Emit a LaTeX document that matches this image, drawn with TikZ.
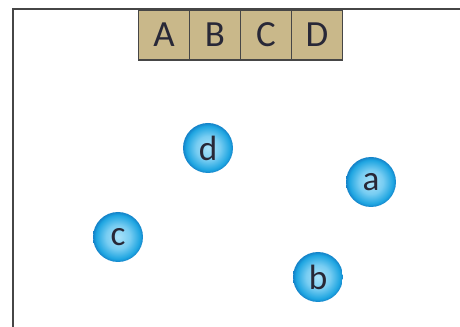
\documentclass[tikz,border=0pt]{standalone}
\usepackage{fontspec}
\setmainfont{Carlito}
\definecolor{boxtan}{RGB}{201,184,138}
\definecolor{ballin}{RGB}{170,226,249}
\definecolor{ballmid}{RGB}{120,205,242}
\definecolor{ballout}{RGB}{30,165,225}
\definecolor{balledge}{RGB}{20,130,200}
\definecolor{frame}{RGB}{70,70,70}
\definecolor{ink}{RGB}{40,40,55}
\pgfdeclareradialshading{ballshade}{\pgfpoint{0bp}{0bp}}{color(0bp)=(ballin);
  color(12bp)=(ballmid); color(22bp)=(ballout); color(25bp)=(balledge); color(50bp)=(balledge)}

\begin{document}
\begin{tikzpicture}[x=0.02cm, y=0.02cm]

\tikzset{ cell/.style={draw=frame, fill=boxtan, line width=0.9pt, minimum width=1.02cm,
    minimum height=1.0cm, inner sep=0pt, text=ink, font={\fontsize{21pt}{24}\selectfont}},
  ball/.style={circle, minimum size=1.0cm, inner sep=0pt, shading=ballshade,
    text=ink, font={\fontsize{20pt}{24}\selectfont}}
}

\useasboundingbox (0,0) rectangle (460,327);

% Frame
\draw[frame, line width=1.1pt] (13,0) -- (13,318) -- (462,318);

% Cells on top
\foreach \l [count=\i] in {A,B,C,D}
  \node[cell] (cell\l) at (164+51*\i-51, 292) {\l};

% Balls
\node[ball] (d) at (208,179) {d};
\node[ball] (a) at (371,145) {a};
\node[ball] (c) at (118,90) {c};
\node[ball] (b) at (318,50) {b};

\end{tikzpicture}
\end{document}
